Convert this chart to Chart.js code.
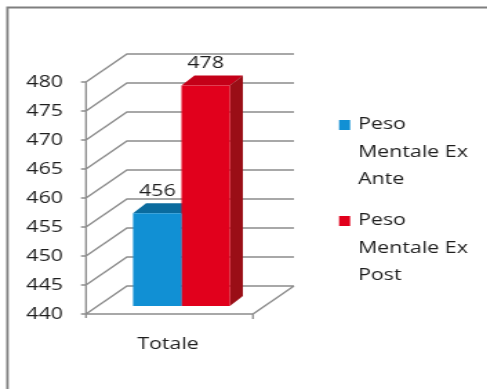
<!DOCTYPE html>
<html>
<head>
<meta charset="utf-8">
<script src="https://cdn.jsdelivr.net/npm/chart.js@4"></script>
<style>
    html, body { margin: 0; padding: 0; background: #fff; overflow: hidden; }
    #wrap { width: 353px; height: 389px; transform: scaleX(1.38); transform-origin: 0 0; }
</style>
</head>
<body>
<div id="wrap"><canvas id="chart"></canvas></div>
<script>
const categories = ["Totale"];
const seriesNames = ["Peso Mentale Ex Ante", "Peso Mentale Ex Post"];
const exAnte = [456];
const exPost = [478];
const yMin = 440;
const yMax = 480;
const yStep = 5;

const frontColors = ["#1190d4", "#e1001c"];
const topColors = ["#0a6b9e", "#c40018"];
const sideColors = ["#0a5d8a", "#9a0e16"];
const textColor = "#1e1e1e";
const gridColor = "#8c8c8c";
const fontFamily = "'Open Sans', Lato, sans-serif";

// 3d offsets (canvas units, x is stretched by the wrapper)
const FRONT = { x: -8.7, y: 8 };
const BACK = { x: 21, y: -20 };
const DEPTH = { x: 9.4, y: -10 };

Chart.defaults.font.family = fontFamily;
Chart.defaults.font.size = 15.5;
Chart.defaults.color = textColor;

function wrapText(ctx, text, maxWidth) {
    const words = text.split(" ");
    const lines = [];
    let line = "";
    words.forEach(w => {
        const test = line ? line + " " + w : w;
        if (line && ctx.measureText(test).width > maxWidth) {
            lines.push(line);
            line = w;
        } else {
            line = test;
        }
    });
    if (line) lines.push(line);
    return lines;
}

const walls3d = {
    id: "walls3d",
    beforeDraw(chart) {
        const ctx = chart.ctx;
        ctx.save();
        ctx.fillStyle = "#fff";
        ctx.fillRect(0, 0, chart.width, chart.height);
        ctx.strokeStyle = "#7f7f7f";
        ctx.lineWidth = 1.8;
        ctx.beginPath();
        ctx.moveTo(5.4, chart.height);
        ctx.lineTo(5.4, 7.5);
        ctx.lineTo(chart.width, 7.5);
        ctx.stroke();
        ctx.restore();
    },
    beforeDatasetsDraw(chart) {
        const { ctx, chartArea: a } = chart;
        const y = chart.scales.y;
        const fy = y.getPixelForValue(yMin);
        const ty = y.getPixelForValue(yMax);
        ctx.save();
        ctx.strokeStyle = gridColor;
        ctx.lineWidth = 1.3;
        ctx.beginPath();
        y.ticks.forEach(t => {
            const py = y.getPixelForValue(t.value);
            ctx.moveTo(a.left + FRONT.x, py + FRONT.y);
            ctx.lineTo(a.left + BACK.x, py + BACK.y);
            ctx.lineTo(a.right + BACK.x, py + BACK.y);
            // tick marks on front axis
            ctx.moveTo(a.left + FRONT.x - 3.6, py + FRONT.y);
            ctx.lineTo(a.left + FRONT.x, py + FRONT.y);
        });
        // floor
        ctx.moveTo(a.left + FRONT.x, fy + FRONT.y);
        ctx.lineTo(a.right + FRONT.x, fy + FRONT.y);
        ctx.lineTo(a.right + BACK.x, fy + BACK.y);
        // front axis line
        ctx.moveTo(a.left + FRONT.x, ty + FRONT.y);
        ctx.lineTo(a.left + FRONT.x, fy + FRONT.y + 4);
        ctx.moveTo(a.right + FRONT.x, fy + FRONT.y);
        ctx.lineTo(a.right + FRONT.x, fy + FRONT.y + 5);
        ctx.stroke();

        // bar tops and sides, fronts are drawn by chart.js afterwards
        chart.data.datasets.forEach((ds, i) => {
            chart.getDatasetMeta(i).data.forEach(bar => {
                const l = bar.x - bar.width / 2;
                const r = bar.x + bar.width / 2;
                const t = bar.y;
                const b = Math.min(bar.base, a.bottom);
                ctx.fillStyle = topColors[i];
                ctx.beginPath();
                ctx.moveTo(l, t);
                ctx.lineTo(l + DEPTH.x, t + DEPTH.y);
                ctx.lineTo(r + DEPTH.x, t + DEPTH.y);
                ctx.lineTo(r, t);
                ctx.closePath();
                ctx.fill();
                ctx.fillStyle = sideColors[i];
                ctx.beginPath();
                ctx.moveTo(r, t);
                ctx.lineTo(r + DEPTH.x, t + DEPTH.y);
                ctx.lineTo(r + DEPTH.x, b + DEPTH.y);
                ctx.lineTo(r, b);
                ctx.closePath();
                ctx.fill();
            });
        });
        ctx.restore();
    },
    afterDatasetsDraw(chart) {
        const ctx = chart.ctx;
        ctx.save();
        ctx.font = "15.5px " + fontFamily;
        ctx.fillStyle = textColor;
        ctx.textAlign = "center";
        ctx.textBaseline = "middle";
        chart.data.datasets.forEach((ds, i) => {
            chart.getDatasetMeta(i).data.forEach((bar, j) => {
                ctx.fillText(String(ds.data[j]), bar.x, bar.y - 22);
            });
        });
        ctx.restore();
    },
    afterDraw(chart) {
        const ctx = chart.ctx;
        ctx.save();
        ctx.font = "15.5px " + fontFamily;
        ctx.textBaseline = "middle";
        ctx.textAlign = "left";
        chart.data.datasets.forEach((ds, i) => {
            const lines = wrapText(ctx, ds.label, 84);
            const y0 = 125 + i * 96;
            ctx.fillStyle = frontColors[i];
            ctx.fillRect(245.7, y0 - 5, 8, 10);
            ctx.fillStyle = textColor;
            lines.forEach((ln, k) => ctx.fillText(ln, 259.4, y0 + k * 27.5));
        });
        ctx.restore();
    }
};

new Chart(document.getElementById("chart"), {
    type: "bar",
    data: {
        labels: categories,
        datasets: [
            { label: seriesNames[0], data: exAnte, backgroundColor: frontColors[0] },
            { label: seriesNames[1], data: exPost, backgroundColor: frontColors[1] }
        ]
    },
    options: {
        responsive: true,
        maintainAspectRatio: false,
        animation: false,
        events: [],
        layout: { padding: { left: 0, right: 161, top: 74, bottom: 0 } },
        datasets: { bar: { categoryPercentage: 0.58, barPercentage: 1, borderWidth: 0 } },
        plugins: { legend: { display: false }, tooltip: { enabled: false } },
        scales: {
            x: {
                grid: { display: false, drawTicks: false },
                border: { display: false },
                ticks: { padding: 29, labelOffset: -9.8 },
                afterFit(s) { s.height = 83; }
            },
            y: {
                min: yMin,
                max: yMax,
                grid: { display: false, drawTicks: false },
                border: { display: false },
                ticks: { stepSize: yStep, padding: 25.3, labelOffset: 9 },
                afterFit(s) { s.width = 71; }
            }
        }
    },
    plugins: [walls3d]
});
</script>
</body>
</html>
